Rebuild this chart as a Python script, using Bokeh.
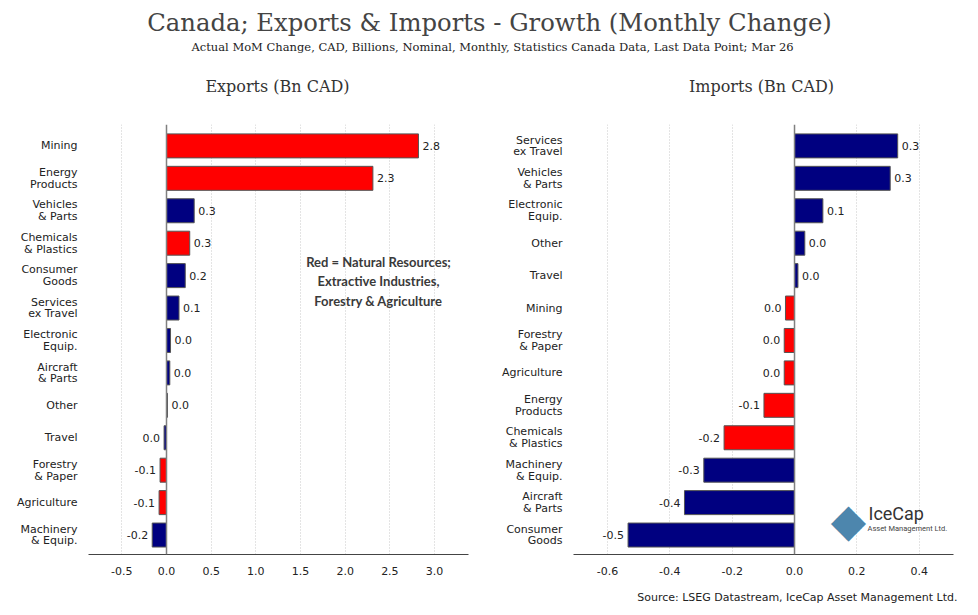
from bokeh.plotting import figure
from bokeh.layouts import column, row
from bokeh.models import Range1d, Label, Span, FixedTicker, ColumnDataSource, PrintfTickFormatter
from bokeh.core.properties import value
from bokeh.embed import file_html
from bokeh.resources import INLINE

# ---------------- data ----------------
export_categories = ["Mining", "Energy\nProducts", "Vehicles\n& Parts", "Chemicals\n& Plastics",
                     "Consumer\nGoods", "Services\nex Travel", "Electronic\nEquip.", "Aircraft\n& Parts",
                     "Other", "Travel", "Forestry\n& Paper", "Agriculture", "Machinery\n& Equip."]
export_values = [2.82, 2.31, 0.31, 0.26, 0.21, 0.14, 0.045, 0.037, 0.011, -0.027, -0.072, -0.083, -0.16]

import_categories = ["Services\nex Travel", "Vehicles\n& Parts", "Electronic\nEquip.", "Other", "Travel",
                     "Mining", "Forestry\n& Paper", "Agriculture", "Energy\nProducts", "Chemicals\n& Plastics",
                     "Machinery\n& Equip.", "Aircraft\n& Parts", "Consumer\nGoods"]
import_values = [0.331, 0.307, 0.091, 0.033, 0.011, -0.029, -0.033, -0.033, -0.098, -0.226, -0.291, -0.353, -0.534]

natural_resources = {"Mining", "Energy\nProducts", "Chemicals\n& Plastics", "Forestry\n& Paper", "Agriculture"}

export_ticks = [-0.5, 0.0, 0.5, 1.0, 1.5, 2.0, 2.5, 3.0]
import_ticks = [-0.6, -0.4, -0.2, 0.0, 0.2, 0.4]

TITLE = "Canada; Exports & Imports - Growth (Monthly Change)"
SUBTITLE = "Actual MoM Change, CAD, Billions, Nominal, Monthly, Statistics Canada Data, Last Data Point; Mar 26"
SOURCE = "Source: LSEG Datastream, IceCap Asset Management Ltd."

SANS = "DejaVu Sans"
SERIF = "DejaVu Serif"
RED = "#ff0000"
NAVY = "#000080"


def fmt(v):
    return f"{abs(v):.1f}" if abs(v) < 0.05 else f"{v:.1f}"


def make_panel(cats, vals, xr, ticks, border_left, border_right):
    n = len(cats)
    ys = list(range(n - 1, -1, -1))
    p = figure(width=489, height=490, x_range=Range1d(*xr), y_range=Range1d(-0.6, n - 1 + 0.66),
               output_backend="svg", toolbar_location=None,
               min_border_left=border_left, min_border_right=border_right,
               min_border_top=24, min_border_bottom=36)
    p.outline_line_color = None
    p.background_fill_color = "white"
    p.border_fill_color = "white"

    src = ColumnDataSource(dict(
        y=ys, v=vals,
        color=[RED if c in natural_resources else NAVY for c in cats],
        label=[fmt(v) for v in vals],
        off=[4 if v >= 0 else -4 for v in vals],
        align=["left" if v >= 0 else "right" for v in vals],
    ))
    p.hbar(y="y", left=0, right="v", height=0.74, source=src, fill_color="color",
           line_color="#555555", line_width=1)
    p.add_layout(Span(location=0, dimension="height", line_color="#808080", line_width=1.5))
    p.text(x="v", y="y", text="label", x_offset="off", text_align="align", text_baseline="middle",
           source=src, text_font=value(SANS), text_font_size="11px", text_color="#222222")

    # axes
    p.xaxis.ticker = FixedTicker(ticks=ticks)
    p.xaxis.formatter = PrintfTickFormatter(format="%.1f")
    p.xaxis.axis_line_color = "#444444"
    p.xaxis.axis_line_width = 1
    p.xaxis.major_tick_line_color = None
    p.xaxis.minor_tick_line_color = None
    p.xaxis.major_label_standoff = 6
    p.xaxis.major_label_text_font = SANS
    p.xaxis.major_label_text_font_size = "11px"
    p.xaxis.major_label_text_color = "#222222"

    p.yaxis.ticker = FixedTicker(ticks=ys)
    p.yaxis.major_label_overrides = {y: c for y, c in zip(ys, cats)}
    p.yaxis.axis_line_color = None
    p.yaxis.major_tick_line_color = None
    p.yaxis.minor_tick_line_color = None
    p.yaxis.major_label_standoff = 5
    p.yaxis.major_label_text_font = SANS
    p.yaxis.major_label_text_font_size = "11px"
    p.yaxis.major_label_text_color = "#222222"
    p.yaxis.major_label_text_line_height = 0.9

    p.ygrid.grid_line_color = None
    p.xgrid.ticker = FixedTicker(ticks=[t for t in ticks if t != 0])
    p.xgrid.grid_line_color = "#c8c8c8"
    p.xgrid.grid_line_dash = "1 2"
    p.xgrid.grid_line_width = 1
    return p


p1 = make_panel(export_categories, export_values, (-0.873, 3.38), export_ticks, 88, 21)
p2 = make_panel(import_categories, import_values, (-0.709, 0.51), import_ticks, 84, 25)

p1.add_layout(Label(x=290, y=273, x_units="screen", y_units="screen",
                    text="Red = Natural Resources;\nExtractive Industries,\nForestry & Agriculture",
                    text_align="center", text_baseline="middle", text_font="Lato",
                    text_font_size="13px", text_font_style="bold", text_color="#3a3a3a",
                    text_line_height=1.2))

# IceCap logo (decoration)
p2.add_layout(Label(x=275, y=35, x_units="screen", y_units="screen", text="\u25c6",
                    text_align="center", text_baseline="middle", text_font=SANS,
                    text_font_size="46px", text_color="#4d86ad"))
p2.add_layout(Label(x=295, y=41, x_units="screen", y_units="screen", text="IceCap",
                    text_align="left", text_baseline="middle", text_font="Roboto",
                    text_font_size="18px", text_color="#333333"))
p2.add_layout(Label(x=294, y=26, x_units="screen", y_units="screen", text="Asset Management Ltd.",
                    text_align="left", text_baseline="middle", text_font="Roboto",
                    text_font_size="7.5px", text_color="#444444"))


def blank(width, height):
    f = figure(width=width, height=height, x_range=Range1d(0, width), y_range=Range1d(height, 0),
               output_backend="svg", toolbar_location=None, x_axis_location=None, y_axis_location=None,
               min_border=0)
    f.outline_line_color = None
    f.grid.visible = False
    return f


header = blank(978, 100)
header.add_layout(Label(x=489, y=22, text=TITLE, text_align="center", text_baseline="middle",
                        text_font=SERIF, text_font_size="24.3px", text_color="#444444"))
header.add_layout(Label(x=492, y=46, text=SUBTITLE, text_align="center", text_baseline="middle",
                        text_font=SERIF, text_font_size="11.5px", text_color="#222222"))
header.add_layout(Label(x=277, y=86, text="Exports (Bn CAD)", text_align="center", text_baseline="middle",
                        text_font=SERIF, text_font_size="16px", text_color="#333333"))
header.add_layout(Label(x=761, y=86, text="Imports (Bn CAD)", text_align="center", text_baseline="middle",
                        text_font=SERIF, text_font_size="16px", text_color="#333333"))

footer = blank(978, 25)
footer.add_layout(Label(x=957, y=7, text=SOURCE, text_align="right", text_baseline="middle",
                        text_font=SANS, text_font_size="11px", text_color="#222222"))

layout = column(header, row(p1, p2, spacing=0), footer, spacing=0)
open("out.html", "w").write(file_html(layout, INLINE))
